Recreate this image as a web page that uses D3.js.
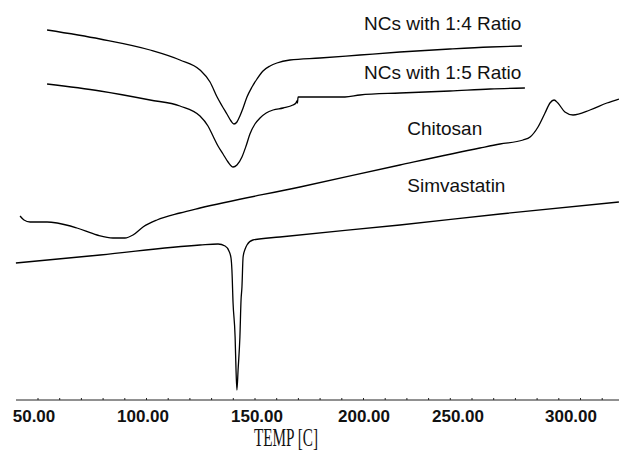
<!DOCTYPE html>
<html>
<head>
<meta charset="utf-8">
<title>DSC thermograms</title>
<script src="https://d3js.org/d3.v7.min.js"></script>
<style>
  body { margin: 0; background: #fff; }
  svg { display: block; }
  .curve { fill: none; stroke: #000; stroke-width: 1.3; }
  .lbl { font-family: "Liberation Sans", Arial, sans-serif; font-size: 19px; fill: #111; }
  .tick-lbl { font-family: "Liberation Sans", Arial, sans-serif; font-size: 17px; font-weight: bold; fill: #111; }
  .axis-title { font-family: "Liberation Serif", serif; font-size: 26px; fill: #111; }
</style>
</head>
<body>
<svg width="619" height="453"></svg>
<script>
// temperature (C)
var tempTicks = [50, 100, 150, 200, 250, 300];

// NCs with 1:4 ratio
var nc14Temp = [56.0, 80.3, 103.1, 116.2, 125.0, 129.4, 132.5, 134.7, 136.8, 138.6, 139.9, 141.2, 142.5, 143.9, 145.6, 147.8, 150.0, 152.8, 156.1, 159.3, 165.4, 179.4, 198.1, 219.1, 245.7, 264.2, 278.3];
var nc14Flow = [370, 361, 350, 340, 330, 318, 303, 294, 286, 279, 276, 278, 284, 292, 303, 313, 321, 329, 334, 337, 340, 342, 345, 348, 351, 353, 354];

// NCs with 1:5 ratio
var nc15Temp = [56.0, 80.3, 103.1, 116.2, 125.0, 128.5, 130.7, 132.9, 135.1, 137.3, 139.5, 141.2, 143.4, 145.2, 146.9, 149.1, 151.4, 154.3, 157.5, 162.2, 166.8, 168.2, 168.7, 168.9, 169.2, 170.1, 179.4, 191.1, 198.1, 219.1, 245.7, 264.2, 279.6];
var nc15Flow = [316, 309, 300, 294, 284, 274, 264, 254, 246, 238, 233, 235, 243, 254, 266, 276, 282, 287, 290, 292, 295, 297, 299, 297, 303, 303, 303, 303, 305, 307, 309, 311, 312];

// chitosan
var chitTemp = [43.6, 45.4, 48.2, 56.0, 60.6, 69.7, 78.9, 86.2, 91.7, 95.4, 100.0, 106.1, 116.2, 125.0, 170.1, 219.1, 259.7, 268.6, 278.8, 281.9, 285.4, 288.5, 290.7, 292.5, 294.2, 297.3, 300.9, 308.4, 315.9, 321.2];
var chitFlow = [184, 180, 178, 178, 177, 172, 165, 162, 162, 165, 173, 180, 187, 192, 213, 235, 252, 256, 260, 263, 273, 287, 297, 300, 297, 288, 285, 290, 297, 301];

// simvastatin
var simvTemp = [41.7, 80.3, 125.0, 132.9, 136.0, 137.7, 138.6, 139.0, 139.5, 140.4, 140.8, 141.2, 141.7, 142.5, 143.0, 143.4, 143.9, 144.8, 145.6, 148.2, 160.7, 219.1, 268.6, 321.2];
var simvFlow = [137, 145, 155, 156, 154, 149, 142, 130, 97, 63, 30, 10, 30, 63, 100, 113, 143, 151, 155, 160, 163, 175, 186, 198];

var seriesNames = ["NCs with 1:4 Ratio", "NCs with 1:5 Ratio", "Chitosan", "Simvastatin"];

var svg = d3.select("svg");
var axisY = 400;

// the printed temperature labels are not evenly spaced, so use a polylinear scale
var x = d3.scaleLinear()
	.domain(tempTicks)
	.range([34, 143, 257, 364, 458, 571]);

var y = d3.scaleLinear()
	.domain([0, 400])
	.range([axisY, 0]);

var series = [
	{ name: seriesNames[0], t: nc14Temp, v: nc14Flow, lx: 200, ly: 370 },
	{ name: seriesNames[1], t: nc15Temp, v: nc15Flow, lx: 200, ly: 321 },
	{ name: seriesNames[2], t: chitTemp, v: chitFlow, lx: 223, ly: 265 },
	{ name: seriesNames[3], t: simvTemp, v: simvFlow, lx: 223, ly: 208 }
];

var line = d3.line()
	.x(function(d) { return x(d[0]); })
	.y(function(d) { return y(d[1]); })
	.curve(d3.curveMonotoneX);

svg.append("g").selectAll("path")
	.data(series)
	.enter().append("path")
	.attr("class", "curve")
	.attr("d", function(s) {
		return line(s.t.map(function(t, i) { return [t, s.v[i]]; }));
	});

svg.append("g").selectAll("text")
	.data(series)
	.enter().append("text")
	.attr("class", "lbl")
	.attr("x", function(s) { return x(s.lx); })
	.attr("y", function(s) { return y(s.ly); })
	.text(function(s) { return s.name; });

// bottom axis
var axisG = svg.append("g");
axisG.append("line")
	.attr("x1", 16).attr("x2", 619)
	.attr("y1", axisY).attr("y2", axisY)
	.attr("stroke", "#222").attr("stroke-width", 1);

// small tick marks spaced evenly along the line
var minor = d3.range(0, 28);
var minorX = d3.scaleLinear().domain([0, 27]).range([38, 38 + 27 * 21.7]);
axisG.selectAll(".minor")
	.data(minor)
	.enter().append("line")
	.attr("class", "minor")
	.attr("x1", function(d) { return minorX(d); })
	.attr("x2", function(d) { return minorX(d); })
	.attr("y1", axisY).attr("y2", axisY - 2)
	.attr("stroke", "#222");

axisG.selectAll(".tick-lbl")
	.data(tempTicks)
	.enter().append("text")
	.attr("class", "tick-lbl")
	.attr("x", function(d) { return x(d); })
	.attr("y", 422)
	.attr("text-anchor", "middle")
	.text(function(d) { return d3.format(".2f")(d); });

svg.append("text")
	.attr("class", "axis-title")
	.attr("x", 286)
	.attr("y", 446)
	.attr("text-anchor", "middle")
	.attr("textLength", 64)
	.attr("lengthAdjust", "spacingAndGlyphs")
	.text("TEMP [C]");
</script>
</body>
</html>
